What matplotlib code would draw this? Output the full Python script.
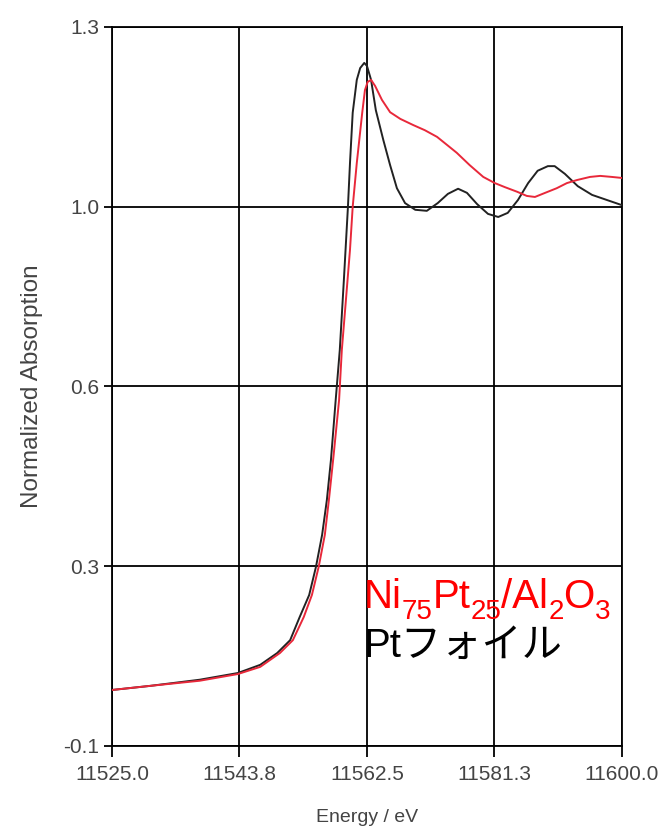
import matplotlib
matplotlib.use("Agg")
from matplotlib import pyplot as plt

# Pt foil (black)
pt_energy = [11525.0, 11530.6, 11537.9, 11543.5, 11546.8, 11549.3, 11551.2, 11552.6,
             11554.0, 11555.0, 11555.9, 11556.6, 11557.2, 11557.9, 11558.5, 11559.1,
             11559.7, 11560.0, 11560.4, 11561.0, 11561.5, 11562.1, 11562.5, 11563.1,
             11563.8, 11564.9, 11565.9, 11566.9, 11568.1, 11569.6, 11571.3, 11572.9,
             11574.4, 11575.9, 11577.2, 11578.7, 11580.3, 11581.8, 11583.2, 11584.7,
             11586.2, 11587.6, 11589.1, 11590.1, 11591.6, 11593.5, 11595.6, 11597.8,
             11600.0]
pt_abs = [0.009, 0.017, 0.029, 0.042, 0.058, 0.081, 0.106, 0.151,
          0.194, 0.249, 0.311, 0.379, 0.457, 0.574, 0.671, 0.807,
          0.950, 1.035, 1.133, 1.197, 1.220, 1.230, 1.224, 1.197,
          1.138, 1.080, 1.031, 0.986, 0.957, 0.944, 0.942, 0.957,
          0.975, 0.985, 0.977, 0.955, 0.936, 0.930, 0.938, 0.963,
          0.996, 1.020, 1.029, 1.029, 1.014, 0.990, 0.973, 0.963,
          0.953]

# Ni75Pt25/Al2O3 (red)
nipt_energy = [11525.0, 11530.6, 11537.9, 11543.5, 11546.8, 11549.7, 11551.6, 11553.2,
               11554.4, 11555.4, 11556.3, 11556.9, 11557.6, 11558.4, 11558.8, 11559.4,
               11560.0, 11560.4, 11561.0, 11561.8, 11562.2, 11562.6, 11563.1, 11563.7,
               11564.7, 11565.9, 11567.4, 11569.3, 11571.0, 11572.8, 11574.3, 11575.7,
               11577.6, 11579.6, 11581.3, 11582.8, 11584.6, 11586.0, 11587.2, 11588.7,
               11590.4, 11591.9, 11593.4, 11595.3, 11596.8, 11598.5, 11600.0]
nipt_abs = [0.009, 0.017, 0.027, 0.040, 0.054, 0.081, 0.106, 0.151,
            0.194, 0.249, 0.311, 0.379, 0.467, 0.574, 0.671, 0.768,
            0.866, 0.950, 1.035, 1.133, 1.177, 1.193, 1.197, 1.185,
            1.158, 1.134, 1.121, 1.109, 1.099, 1.086, 1.070, 1.055,
            1.031, 1.008, 0.996, 0.988, 0.979, 0.971, 0.969, 0.977,
            0.986, 0.996, 1.002, 1.008, 1.010, 1.008, 1.006]

x_ticks = [11525.0, 11543.75, 11562.5, 11581.25, 11600.0]
x_labels = ["11525.0", "11543.8", "11562.5", "11581.3", "11600.0"]
y_ticks = [-0.1, 0.25, 0.6, 0.95, 1.3]
y_labels = ["-0.1", "0.3", "0.6", "1.0", "1.3"]

# label of the red curve, split into (text, is_subscript)
sample_parts = [("Ni", False), ("75", True), ("Pt", False), ("25", True),
                ("/Al", False), ("2", True), ("O", False), ("3", True)]
foil_label = "Ptフォイル"

plt.rcParams['font.family'] = ['Liberation Sans', 'DejaVu Sans']

fig = plt.figure(figsize=(6.67, 8.32), dpi=100)
ax = fig.add_axes([0.1679, 0.1034, 0.7646, 0.8642])

ax.plot(pt_energy, pt_abs, color='#222222', lw=1.4, zorder=3)
ax.plot(nipt_energy, nipt_abs, color='#e8283a', lw=1.4, zorder=4)

ax.set_xlim(11525, 11600)
ax.set_ylim(-0.1, 1.3)
ax.set_xticks(x_ticks)
ax.set_xticklabels(x_labels)
ax.set_yticks(y_ticks)
ax.set_yticklabels(y_labels)
ax.grid(True, color='black', lw=1.3)
for s in ax.spines.values():
    s.set_color('black')
    s.set_linewidth(1.3)
ax.tick_params(axis='both', colors='black', labelcolor='#444444', labelsize=15, width=1.3)
ax.tick_params(axis='x', length=8, pad=6)
ax.tick_params(axis='y', length=6, pad=3)

ax.set_xlabel("Energy / eV", fontsize=14, color='#444444', labelpad=18)
ax.set_ylabel("Normalized Absorption", fontsize=17.5, color='#444444', labelpad=15)

fam = ['Liberation Sans', 'Noto Sans CJK JP', 'DejaVu Sans']
big, small = 29, 20

# red label: pieces chained one after another, subscripts lowered
t = ax.text(11562.0, 0.169, sample_parts[0][0], color='#ff0000', fontsize=big,
            family=fam, va='baseline', zorder=5)
prev_sub = False
for txt, sub in sample_parts[1:]:
    dy = 0
    if sub and not prev_sub:
        dy = -6.7
    elif prev_sub and not sub:
        dy = 6.7
    t = ax.annotate(txt, xy=(1, 0), xycoords=t, xytext=(0, dy), textcoords='offset points',
                    va='bottom', ha='left', color='#ff0000',
                    fontsize=small if sub else big, family=fam, zorder=5)
    prev_sub = sub

ax.text(11562.0, 0.073, foil_label, color='black', fontsize=big, family=fam,
        va='baseline', zorder=5)

fig.savefig("out.png", dpi=100)
